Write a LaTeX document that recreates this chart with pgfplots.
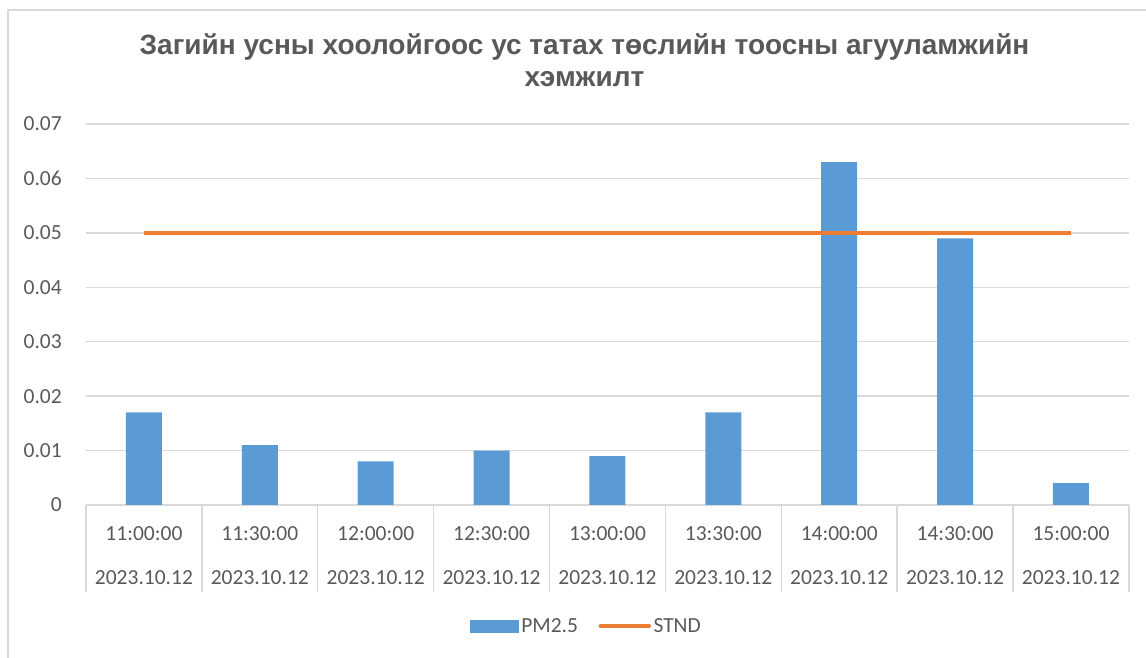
\documentclass[border=0pt]{standalone}
\usepackage{fontspec}
\setmainfont{Carlito}
\newfontfamily\titlefont{Liberation Sans}
\usepackage{pgfplots}
\pgfplotsset{compat=1.18}
\definecolor{barblue}{HTML}{5B9BD5}
\definecolor{lineorange}{HTML}{ED7D31}
\definecolor{txtgray}{HTML}{595959}
\definecolor{gridgray}{HTML}{D9D9D9}
\begin{document}
\begin{tikzpicture}[x=1pt,y=1pt]
\useasboundingbox (0,0) rectangle (1146,658);
\draw[gridgray, line width=1.3pt] (8,0) -- (8,648) -- (1146,648);
\node[font=\titlefont\bfseries\fontsize{28}{32}\selectfont, text=txtgray, anchor=base, inner sep=0pt] at (584.5,603) {Загийн усны хоолойгоос ус татах төслийн тоосны агууламжийн};
\node[font=\titlefont\bfseries\fontsize{28}{32}\selectfont, text=txtgray, anchor=base, inner sep=0pt] at (584.5,571) {хэмжилт};
\begin{axis}[
  at={(86pt,153pt)}, anchor=south west,
  scale only axis, width=1043pt, height=381pt,
  xmin=-0.5, xmax=8.5, ymin=0, ymax=0.07,
  clip=false,
  scaled y ticks=false,
  axis x line*=bottom, axis y line*=left,
  x axis line style={gridgray, line width=1.3pt},
  y axis line style={draw=none},
  ymajorgrids, major grid style={gridgray, line width=1.3pt},
  major tick length=0pt,
  ytick={0,0.01,0.02,0.03,0.04,0.05,0.06,0.07},
  yticklabels={0,0.01,0.02,0.03,0.04,0.05,0.06,0.07},
  yticklabel style={font=\fontsize{21.5}{26}\selectfont, text=txtgray, anchor=east, inner sep=0pt, xshift=-24pt},
  xtick={0,1,2,3,4,5,6,7,8},
  xticklabels={{11:00:00\\[18pt]2023.10.12},{11:30:00\\[18pt]2023.10.12},{12:00:00\\[18pt]2023.10.12},{12:30:00\\[18pt]2023.10.12},{13:00:00\\[18pt]2023.10.12},{13:30:00\\[18pt]2023.10.12},{14:00:00\\[18pt]2023.10.12},{14:30:00\\[18pt]2023.10.12},{15:00:00\\[18pt]2023.10.12}},
  xticklabel style={font=\fontsize{21.5}{26}\selectfont, text=txtgray, align=center, anchor=north, inner sep=0pt, yshift=-21pt},
  legend columns=2,
  legend style={at={(axis description cs:0.480,-0.3176)}, anchor=center, draw=none, fill=none,
    font=\fontsize{21.5}{26}\selectfont, text=txtgray,
    nodes={inner sep=2.5pt},
    /tikz/every even column/.append style={column sep=18pt}},
]
\addplot[ybar, bar width=36pt, fill=barblue, draw=none,
  legend image code/.code={\fill[barblue] (0pt,-6.5pt) rectangle (49pt,6.5pt);}]
  coordinates {(0,0.017) (1,0.011) (2,0.008) (3,0.010) (4,0.009) (5,0.017) (6,0.063) (7,0.049) (8,0.004)};
\addlegendentry{PM2.5}
\addplot[lineorange, line width=4.5pt, mark=none,
  legend image code/.code={\draw[lineorange, line width=4.5pt, line cap=round] (2pt,0pt) -- (50pt,0pt);}]
  coordinates {(0,0.05) (1,0.05) (2,0.05) (3,0.05) (4,0.05) (5,0.05) (6,0.05) (7,0.05) (8,0.05)};
\addlegendentry{STND}
\pgfplotsinvokeforeach{-0.5,0.5,1.5,2.5,3.5,4.5,5.5,6.5,7.5,8.5}{
  \draw[gridgray, line width=1.3pt] (axis cs:#1,0) -- ++(0pt,-87pt);
}
\end{axis}
\end{tikzpicture}
\end{document}
